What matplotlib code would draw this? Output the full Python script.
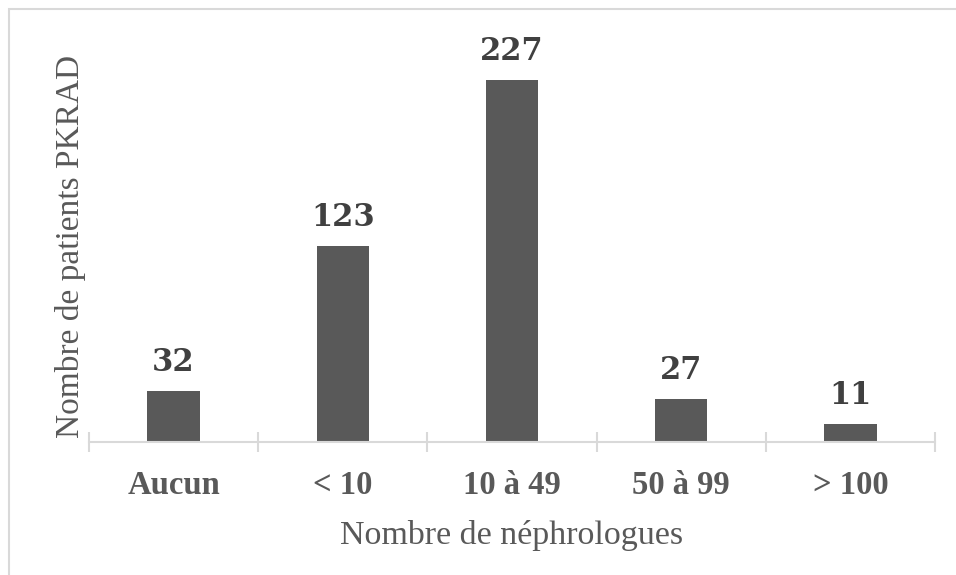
import matplotlib.pyplot as plt
from matplotlib.patches import Rectangle

# Data
categories = ["Aucun", "< 10", "10 à 49", "50 à 99", "> 100"]
patients = [32, 123, 227, 27, 11]

W, H = 956, 575
fig = plt.figure(figsize=(W / 100, H / 100), dpi=100)
plt.rcParams['font.family'] = ['Liberation Serif', 'DejaVu Serif']

# light grey frame round the chart (cut by the right and bottom edges)
fig.patches.append(Rectangle((9 / W, -0.1), 1.2, (H - 9) / H + 0.1,
                             transform=fig.transFigure, fill=False,
                             edgecolor='#d9d9d9', linewidth=1.5))

# plot area: x axis at y=442, from x=89 to x=935
ax = fig.add_axes([89 / W, (H - 442) / H, 846 / W, (442 - 20) / H])
x = list(range(len(categories)))
bars = ax.bar(x, patients, width=0.31, color='#595959')

ax.set_xlim(-0.5, len(categories) - 0.5)
ax.set_ylim(0, 422 / 1.595)

# value labels above the bars
for b, v in zip(bars, patients):
    ax.annotate(str(v), (b.get_x() + b.get_width() / 2, b.get_height()),
                xytext=(0, 20), textcoords='offset pixels',
                ha='center', va='baseline', fontsize=22, fontweight='bold',
                color='#404040', family='DejaVu Serif')

for s in ['top', 'right', 'left']:
    ax.spines[s].set_visible(False)
ax.spines['bottom'].set_color('#d9d9d9')
ax.spines['bottom'].set_linewidth(1.5)
ax.set_yticks([])

ax.set_xticks(x)
ax.set_xticklabels(categories, fontsize=23.5, fontweight='bold', color='#595959')
ax.tick_params(axis='x', which='major', length=0, pad=20)
ax.set_xticks([i - 0.5 for i in range(len(categories) + 1)], minor=True)
ax.tick_params(axis='x', which='minor', direction='inout', length=14,
               width=1.5, color='#d9d9d9')

ax.set_xlabel("Nombre de néphrologues", fontsize=24.5, color='#595959', labelpad=14)
ax.set_ylabel("Nombre de patients PKRAD", fontsize=24, color='#595959')
ax.yaxis.set_label_coords(-3 / 846, (442 - 246) / 422)

fig.savefig("out.png", dpi=100)
